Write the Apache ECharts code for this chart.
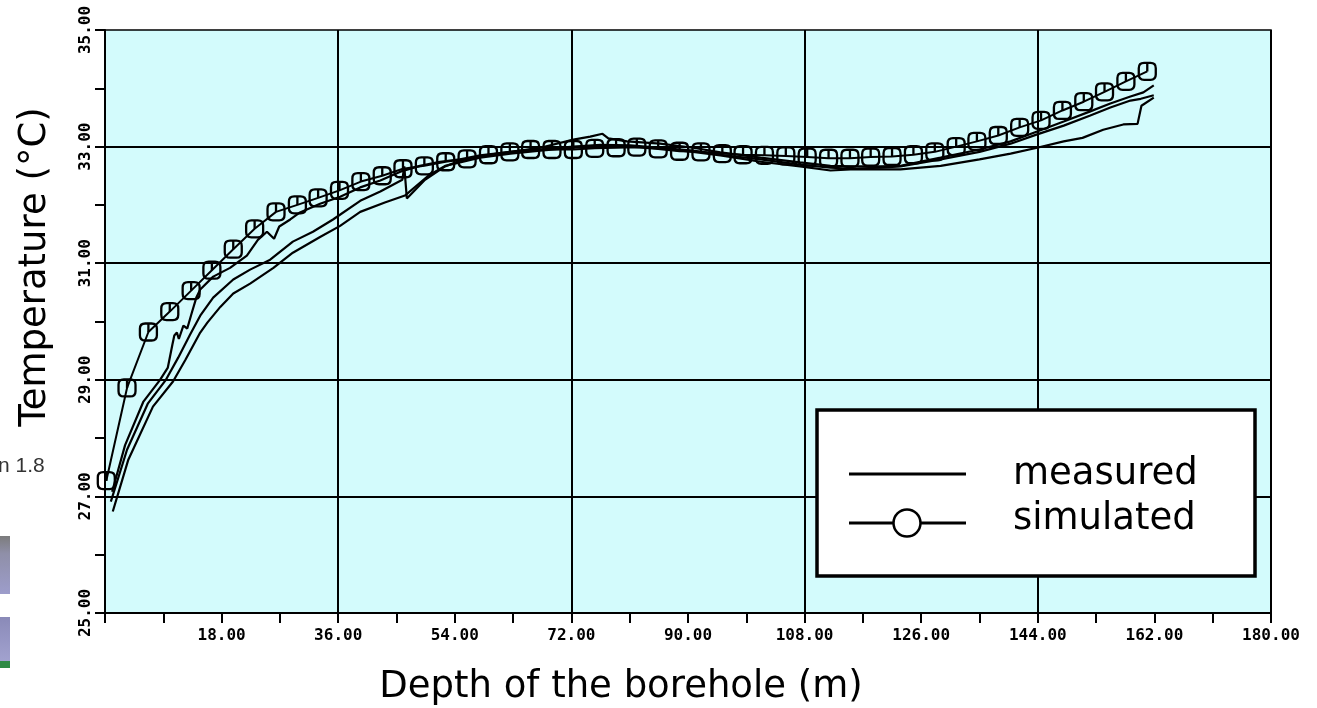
<!DOCTYPE html>
<html>
<head>
<meta charset="utf-8">
<script src="https://cdn.jsdelivr.net/npm/echarts@6/dist/echarts.min.js"></script>
<style>
  html, body { margin: 0; padding: 0; background: #ffffff; }
  #chart { width: 1317px; height: 708px; }
</style>
</head>
<body>
<div id="chart"></div>
<script>
// Simulated borehole temperature profile (depth in m, temperature in °C)
const simDepth = [0.2,3.4,6.7,10.0,13.3,16.5,19.8,23.1,26.4,29.7,32.9,36.2,39.5,42.8,46.0,49.3,52.6,55.9,59.2,62.5,
  65.7,69.0,72.3,75.6,78.9,82.1,85.4,88.7,92.0,95.3,98.5,101.8,105.1,108.4,111.7,115.0,118.2,121.5,124.8,128.1,
  131.4,134.6,137.9,141.2,144.5,147.8,151.1,154.3,157.6,160.9];
const simTemp = [27.27,28.86,29.82,30.17,30.53,30.88,31.24,31.59,31.88,32.00,32.12,32.25,32.40,32.50,32.62,32.67,32.74,32.79,32.86,32.91,
  32.95,32.95,32.95,32.97,32.98,32.99,32.96,32.92,32.91,32.88,32.86,32.85,32.84,32.82,32.80,32.80,32.82,32.83,32.86,32.91,
  33.00,33.09,33.19,33.33,33.45,33.62,33.77,33.94,34.12,34.29];

// Measured profiles, three logging runs
const meas1Depth = [1.1,3.1,5.9,8.5,9.7,10.4,10.7,11.1,11.4,12.1,12.7,13.4,14.1,14.7,16.7,19.3,21.9,23.6,25.0,26.1,
  26.9,28.6,30.1,33.2,36.3,39.4,42.5,45.6,48.6,51.7,54.8,57.9,62.6,67.2,72.3,74.9,76.8,77.7,80.6,85.7,
  90.8,95.0,101.2,107.3,112.0,115.1,119.7,122.8,129.0,135.0,139.8,143.9,148.0,152.0,155.2,158.3,160.3,161.9];
const meas1Temp = [27.08,27.88,28.62,29.00,29.21,29.60,29.76,29.81,29.70,29.93,29.88,30.15,30.41,30.55,30.77,30.92,31.13,31.40,31.54,31.42,
  31.63,31.75,31.87,32.02,32.14,32.30,32.42,32.57,32.67,32.74,32.78,32.85,32.91,32.98,33.12,33.17,33.22,33.14,33.09,33.05,
  32.98,32.90,32.81,32.73,32.67,32.66,32.66,32.67,32.81,32.95,33.09,33.26,33.43,33.60,33.74,33.86,33.93,34.05];

const meas2Depth = [0.9,3.4,6.6,9.4,11.3,13.1,14.7,16.7,19.8,22.4,25.5,29.0,32.1,35.2,39.4,42.5,45.9,46.2,46.6,49.4,
  52.5,54.8,57.9,62.6,67.2,72.3,76.5,81.1,85.7,90.8,95.0,101.2,107.3,112.0,115.1,119.7,122.8,129.0,135.0,139.8,
  143.9,148.0,152.0,155.2,158.3,159.9,161.9];
const meas2Temp = [26.91,27.80,28.59,29.00,29.38,29.77,30.10,30.41,30.72,30.89,31.06,31.37,31.54,31.75,32.07,32.23,32.43,32.66,32.11,32.43,
  32.66,32.76,32.83,32.90,32.95,33.00,33.03,33.02,32.98,32.93,32.86,32.78,32.69,32.64,32.62,32.64,32.66,32.78,32.91,33.05,
  33.21,33.36,33.53,33.67,33.79,33.82,33.88];

const meas3Depth = [1.2,3.6,7.4,10.5,12.4,14.7,15.8,17.8,19.8,22.4,26.0,29.0,33.2,36.3,39.4,43.2,46.3,49.9,52.5,54.8,
  57.9,62.6,67.2,72.3,76.5,81.1,85.7,90.8,95.0,101.2,107.3,112.0,115.1,119.7,122.8,129.0,135.0,139.8,143.9,148.0,
  150.9,154.1,157.2,159.4,160.0,161.9];
const meas3Temp = [26.74,27.63,28.54,28.97,29.34,29.81,29.98,30.25,30.48,30.65,30.92,31.18,31.45,31.64,31.88,32.04,32.16,32.50,32.67,32.73,
  32.81,32.88,32.93,32.98,33.00,33.00,32.97,32.91,32.85,32.74,32.66,32.59,32.61,32.61,32.61,32.67,32.78,32.88,32.98,33.09,
  33.15,33.29,33.38,33.39,33.70,33.84];

// Axis ranges and reference lines
const depthRange = [0, 180];
const tempRange = [25, 35];
const tempGridLines = [27, 29, 31, 33];
const legendLabels = ['measured', 'simulated'];
const sideNote = 'n 1.8';

const pairs = (xs, ys) => xs.map((x, i) => [x, ys[i]]);

// Rounded square marker with a short stem from the top edge to the centre
const markerPath = 'path://M5,0 L11,0 Q16,0 16,5 L16,11 Q16,16 11,16 L5,16 Q0,16 0,11 L0,5 Q0,0 5,0 Z M8,0 L8,8';

const tickFont = { fontFamily: '"DejaVu Sans Mono", monospace', fontSize: 16, fontWeight: 'bold', color: '#000' };
const titleFont = '37px "DejaVu Sans", Verdana, sans-serif';

const measuredLine = { color: '#000', width: 2.2 };

const chart = echarts.init(document.getElementById('chart'), null, { renderer: 'canvas' });

chart.setOption({
  animation: false,
  backgroundColor: '#ffffff',
  grid: {
    left: 105, right: 46, top: 30, bottom: 95,
    show: true,
    backgroundColor: '#d3fbfc',
    borderColor: '#000',
    borderWidth: 1.5
  },
  xAxis: [
    {
      type: 'value', min: depthRange[0], max: depthRange[1], interval: 9,
      axisLine: { lineStyle: { color: '#000', width: 2 } },
      axisTick: { show: true, inside: false, length: 10, lineStyle: { color: '#000', width: 2 } },
      axisLabel: Object.assign({
        margin: 15,
        formatter: v => (v > 0 && Math.round(v) % 18 === 0) ? v.toFixed(2) : ''
      }, tickFont),
      splitLine: { show: false }
    },
    {
      type: 'value', min: depthRange[0], max: depthRange[1], interval: 36,
      position: 'bottom',
      axisLine: { show: false }, axisTick: { show: false }, axisLabel: { show: false },
      splitLine: { show: true, lineStyle: { color: '#000', width: 2 } }
    }
  ],
  yAxis: {
    type: 'value', min: tempRange[0], max: tempRange[1], interval: 1,
    axisLine: { lineStyle: { color: '#000', width: 2 } },
    axisTick: { show: true, inside: false, length: 10, lineStyle: { color: '#000', width: 2 } },
    axisLabel: Object.assign({
      rotate: 90,
      margin: 11,
      formatter: v => (Math.round(v) % 2 === 1) ? v.toFixed(2) : ''
    }, tickFont),
    splitLine: { show: false }
  },
  series: [
    {
      name: 'measured', type: 'line', data: pairs(meas1Depth, meas1Temp),
      showSymbol: false, lineStyle: measuredLine, z: 3,
      markLine: {
        silent: true, symbol: ['none', 'none'], label: { show: false },
        lineStyle: { color: '#000', width: 2.2, type: 'solid' },
        data: tempGridLines.map(t => ({ yAxis: t }))
      }
    },
    { name: 'measured', type: 'line', data: pairs(meas2Depth, meas2Temp), showSymbol: false, lineStyle: measuredLine, z: 3 },
    { name: 'measured', type: 'line', data: pairs(meas3Depth, meas3Temp), showSymbol: false, lineStyle: measuredLine, z: 3 },
    {
      name: 'simulated', type: 'line', data: pairs(simDepth, simTemp),
      symbol: markerPath, symbolSize: 17, showSymbol: true,
      itemStyle: { color: 'rgba(0,0,0,0)', borderColor: '#000', borderWidth: 2.3 },
      lineStyle: { color: '#000', width: 2 }, z: 4
    }
  ],
  graphic: [
    // axis titles
    {
      type: 'text', x: 35, y: 267, rotation: Math.PI / 2,
      style: { text: 'Temperature (°C)', font: titleFont, fill: '#000', align: 'center', verticalAlign: 'middle' }
    },
    {
      type: 'text', x: 621, y: 687,
      style: { text: 'Depth of the borehole (m)', font: titleFont, fill: '#000', align: 'center', verticalAlign: 'middle' }
    },
    // legend box
    {
      type: 'rect', shape: { x: 817, y: 410, width: 438, height: 166 },
      style: { fill: '#ffffff', stroke: '#000', lineWidth: 3.5 }, z: 10
    },
    { type: 'line', shape: { x1: 849, y1: 474, x2: 966, y2: 474 }, style: { stroke: '#000', lineWidth: 3 }, z: 11 },
    { type: 'line', shape: { x1: 849, y1: 523, x2: 966, y2: 523 }, style: { stroke: '#000', lineWidth: 3 }, z: 11 },
    { type: 'circle', shape: { cx: 907, cy: 523, r: 13.5 }, style: { fill: '#ffffff', stroke: '#000', lineWidth: 2.5 }, z: 12 },
    {
      type: 'text', x: 1013, y: 474, z: 11,
      style: { text: legendLabels[0], font: titleFont, fill: '#000', align: 'left', verticalAlign: 'middle' }
    },
    {
      type: 'text', x: 1013, y: 519, z: 11,
      style: { text: legendLabels[1], font: titleFont, fill: '#000', align: 'left', verticalAlign: 'middle' }
    },
    // neighbouring panel edge on the left
    {
      type: 'text', x: -2, y: 466,
      style: { text: sideNote, font: '21px "Liberation Sans", Arial, sans-serif', fill: '#333', align: 'left', verticalAlign: 'middle' }
    },
    {
      type: 'rect', shape: { x: 0, y: 536, width: 10, height: 58 },
      style: { fill: new echarts.graphic.LinearGradient(0, 0, 0, 1, [
        { offset: 0, color: '#7c7c7c' }, { offset: 0.3, color: '#8f8fa8' }, { offset: 1, color: '#9d9dcb' }
      ]) }
    },
    {
      type: 'rect', shape: { x: 0, y: 617, width: 10, height: 44 },
      style: { fill: new echarts.graphic.LinearGradient(0, 0, 0, 1, [
        { offset: 0, color: '#8a8ab8' }, { offset: 1, color: '#a2a2cf' }
      ]) }
    },
    { type: 'rect', shape: { x: 0, y: 661, width: 10, height: 7 }, style: { fill: '#2f8a45' } }
  ]
});
</script>
</body>
</html>
